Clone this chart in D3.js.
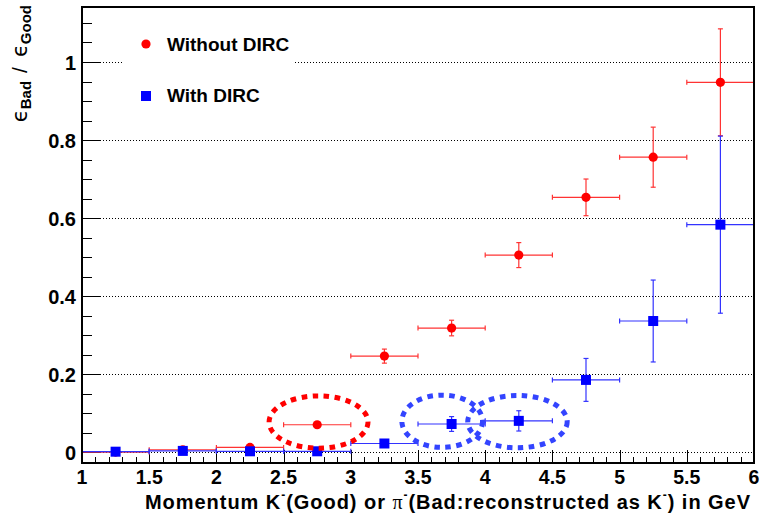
<!DOCTYPE html>
<html>
<head>
<meta charset="utf-8">
<script src="https://cdn.jsdelivr.net/npm/d3@7"></script>
<style>
  html, body { margin: 0; padding: 0; background: #fff; }
  svg { display: block; font-family: "Liberation Sans", Arial, Helvetica, sans-serif; }
</style>
</head>
<body>
<svg id="chart" width="760" height="518"></svg>
<script>
// Momentum bin centres (GeV) and half bin width
const momentum = [1.25, 1.75, 2.25, 2.75, 3.25, 3.75, 4.25, 4.75, 5.25, 5.75];
const binHalfWidth = [0.25, 0.25, 0.25, 0.25, 0.25, 0.25, 0.25, 0.25, 0.25, 0.25];

// eff(Bad)/eff(Good) without the DIRC
const withoutDirc    = [0.000, 0.006, 0.012, 0.070, 0.246, 0.318, 0.505, 0.653, 0.756, 0.948];
const withoutDircErr = [0.000, 0.004, 0.004, 0.006, 0.018, 0.020, 0.032, 0.047, 0.077, 0.137];

// eff(Bad)/eff(Good) with the DIRC
const withDirc    = [0.001, 0.003, 0.002, 0.002, 0.022, 0.072, 0.080, 0.185, 0.336, 0.583];
const withDircErr = [0.001, 0.002, 0.002, 0.002, 0.004, 0.019, 0.026, 0.055, 0.105, 0.227];

// Axis ticks
const xMajorTicks = [1, 1.5, 2, 2.5, 3, 3.5, 4, 4.5, 5, 5.5, 6];
const xTickLabels = ["1", "1.5", "2", "2.5", "3", "3.5", "4", "4.5", "5", "5.5", "6"];
const yMajorTicks = [0, 0.2, 0.4, 0.6, 0.8, 1];
const yTickLabels = ["0", "0.2", "0.4", "0.6", "0.8", "1"];

// Highlighted bins (centre and radii in axis units)
const ringCx = [2.76, 3.68, 4.24];
const ringCy = [0.077, 0.079, 0.078];
const ringRx = [0.368, 0.30, 0.37];
const ringRy = [0.067, 0.067, 0.067];
const ringColor = ["#ff0000", "#3344ff", "#3344ff"];

const svg = d3.select("#chart");
const frame = { left: 82, right: 754, top: 7, bottom: 463 };

const x = d3.scaleLinear().domain([1, 6]).range([frame.left, frame.right]);
const y = d3.scaleLinear().domain([-0.028, 1.141]).range([frame.bottom, frame.top]);

// Dotted horizontal grid at the major y ticks
svg.append("g")
  .selectAll("line")
  .data(yMajorTicks)
  .join("line")
  .attr("x1", frame.left).attr("x2", frame.right)
  .attr("y1", d => y(d)).attr("y2", d => y(d))
  .attr("stroke", "#000").attr("stroke-width", 1)
  .attr("stroke-dasharray", "1,2")
  .attr("shape-rendering", "crispEdges");

// Legend box (white, no border) hides the grid beneath it
svg.append("rect")
  .attr("x", 123).attr("y", 18).attr("width", 170).attr("height", 104)
  .attr("fill", "#fff");

// Y axis: major ticks every 0.2, minor every 0.05, drawn inward
svg.append("g")
  .attr("transform", `translate(${frame.left},0)`)
  .call(d3.axisRight(y).tickValues(yMajorTicks).tickSize(19).tickFormat(""))
  .call(g => g.select(".domain").remove())
  .call(g => g.selectAll("line").attr("stroke", "#000").attr("shape-rendering", "crispEdges"));

const yMinor = d3.range(0.05, 1.14, 0.05).filter(v => Math.abs(v / 0.2 - Math.round(v / 0.2)) > 1e-6);
svg.append("g")
  .attr("transform", `translate(${frame.left},0)`)
  .call(d3.axisRight(y).tickValues(yMinor).tickSize(10).tickFormat(""))
  .call(g => g.select(".domain").remove())
  .call(g => g.selectAll("line").attr("stroke", "#000").attr("shape-rendering", "crispEdges"));

// Y tick labels
svg.append("g")
  .selectAll("text")
  .data(yMajorTicks)
  .join("text")
  .attr("x", 76)
  .attr("y", d => y(d) + 8)
  .attr("text-anchor", "end")
  .attr("font-size", 20)
  .attr("font-weight", "bold")
  .text((d, i) => yTickLabels[i]);

// X axis: major ticks every 0.5, minor every 0.1, drawn inward
svg.append("g")
  .attr("transform", `translate(0,${frame.bottom})`)
  .call(d3.axisTop(x).tickValues(xMajorTicks).tickSize(13).tickFormat(""))
  .call(g => g.select(".domain").remove())
  .call(g => g.selectAll("line").attr("stroke", "#000").attr("shape-rendering", "crispEdges"));

const xMinor = d3.range(1.1, 6, 0.1).filter(v => Math.abs(v / 0.5 - Math.round(v / 0.5)) > 1e-6);
svg.append("g")
  .attr("transform", `translate(0,${frame.bottom})`)
  .call(d3.axisTop(x).tickValues(xMinor).tickSize(6).tickFormat(""))
  .call(g => g.select(".domain").remove())
  .call(g => g.selectAll("line").attr("stroke", "#000").attr("shape-rendering", "crispEdges"));

// X tick labels
svg.append("g")
  .selectAll("text")
  .data(xMajorTicks)
  .join("text")
  .attr("x", d => x(d))
  .attr("y", 484)
  .attr("text-anchor", "middle")
  .attr("font-size", 19.5)
  .attr("font-weight", "bold")
  .text((d, i) => xTickLabels[i]);

// Data series with error bars
function drawSeries(values, errors, lineColor, fillColor, shape) {
  const rows = momentum.map((m, i) => ({ m, v: values[i], ey: errors[i], ex: binHalfWidth[i] }));
  const g = svg.append("g");
  const cap = 2.5;
  rows.forEach(r => {
    const cx = x(r.m), cy = y(r.v);
    const x0 = x(r.m - r.ex), x1 = x(r.m + r.ex);
    const y0 = y(r.v - r.ey), y1 = y(r.v + r.ey);
    g.append("line").attr("x1", x0).attr("x2", x1).attr("y1", cy).attr("y2", cy)
      .attr("stroke", lineColor).attr("stroke-width", 1.2);
    g.append("line").attr("x1", x0).attr("x2", x0).attr("y1", cy - cap).attr("y2", cy + cap)
      .attr("stroke", lineColor).attr("stroke-width", 1.2);
    g.append("line").attr("x1", x1).attr("x2", x1).attr("y1", cy - cap).attr("y2", cy + cap)
      .attr("stroke", lineColor).attr("stroke-width", 1.2);
    if (y0 - y1 > 2) {
      g.append("line").attr("x1", cx).attr("x2", cx).attr("y1", y0).attr("y2", y1)
        .attr("stroke", lineColor).attr("stroke-width", 1.2);
      [y0, y1].forEach(yy => g.append("line")
        .attr("x1", cx - cap).attr("x2", cx + cap).attr("y1", yy).attr("y2", yy)
        .attr("stroke", lineColor).attr("stroke-width", 1.2));
    }
  });
  if (shape === "circle") {
    g.selectAll("circle").data(rows).join("circle")
      .attr("cx", d => x(d.m)).attr("cy", d => y(d.v)).attr("r", 4.6)
      .attr("fill", fillColor);
  } else {
    g.selectAll("rect.mk").data(rows).join("rect")
      .attr("class", "mk")
      .attr("x", d => x(d.m) - 5).attr("y", d => y(d.v) - 5)
      .attr("width", 10).attr("height", 10)
      .attr("fill", fillColor);
  }
}

drawSeries(withoutDirc, withoutDircErr, "#ff3333", "#ff0000", "circle");
drawSeries(withDirc, withDircErr, "#3333ff", "#0000ff", "square");

// Frame
svg.append("rect")
  .attr("x", frame.left).attr("y", frame.top)
  .attr("width", frame.right - frame.left).attr("height", frame.bottom - frame.top)
  .attr("fill", "none").attr("stroke", "#000").attr("stroke-width", 1.2)
  .attr("shape-rendering", "crispEdges");

// Dashed rings around the highlighted bins
svg.append("g")
  .selectAll("ellipse")
  .data(ringCx)
  .join("ellipse")
  .attr("cx", d => x(d))
  .attr("cy", (d, i) => y(ringCy[i]))
  .attr("rx", (d, i) => x(1 + ringRx[i]) - x(1))
  .attr("ry", (d, i) => y(0) - y(ringRy[i]))
  .attr("fill", "none")
  .attr("stroke", (d, i) => ringColor[i])
  .attr("stroke-width", 5)
  .attr("stroke-dasharray", "5.5,5.5");

// Legend
const legend = svg.append("g").attr("font-size", 19).attr("font-weight", "bold");
legend.append("circle").attr("cx", 146).attr("cy", 44).attr("r", 4.6).attr("fill", "#ff0000");
legend.append("text").attr("x", 167).attr("y", 51).text("Without DIRC");
legend.append("rect").attr("x", 141).attr("y", 91).attr("width", 10).attr("height", 10).attr("fill", "#0000ff");
legend.append("text").attr("x", 167).attr("y", 102).text("With DIRC");

// X axis title
const xt = svg.append("text")
  .attr("x", 145).attr("y", 509)
  .attr("font-size", 20)
  .attr("font-weight", "bold")
  .attr("textLength", 605)
  .attr("lengthAdjust", "spacing");
xt.append("tspan").text("Momentum K");
xt.append("tspan").attr("font-size", 12).attr("dy", -10).text("-");
xt.append("tspan").attr("dy", 10).text("(Good) or  ");
xt.append("tspan").attr("font-weight", "normal").attr("font-family", "Liberation Serif, serif").text("π");
xt.append("tspan").attr("font-size", 12).attr("dy", -10).text("-");
xt.append("tspan").attr("dy", 10).text("(Bad:reconstructed as K");
xt.append("tspan").attr("font-size", 12).attr("dy", -10).text("-");
xt.append("tspan").attr("dy", 10).text(") in GeV");

// Y axis title
const yt = svg.append("text")
  .attr("transform", "translate(27,5) rotate(-90)")
  .attr("text-anchor", "end")
  .attr("font-size", 21);
yt.append("tspan").attr("font-family", "DejaVu Sans, sans-serif").text("ϵ");
yt.append("tspan").attr("font-size", 15).attr("font-weight", "bold").attr("dy", 4).text("Bad");
yt.append("tspan").attr("dy", -4).attr("dx", 8).text("/");
yt.append("tspan").attr("dx", 10).attr("font-family", "DejaVu Sans, sans-serif").text("ϵ");
yt.append("tspan").attr("font-size", 15).attr("font-weight", "bold").attr("dy", 4).text("Good");
</script>
</body>
</html>
